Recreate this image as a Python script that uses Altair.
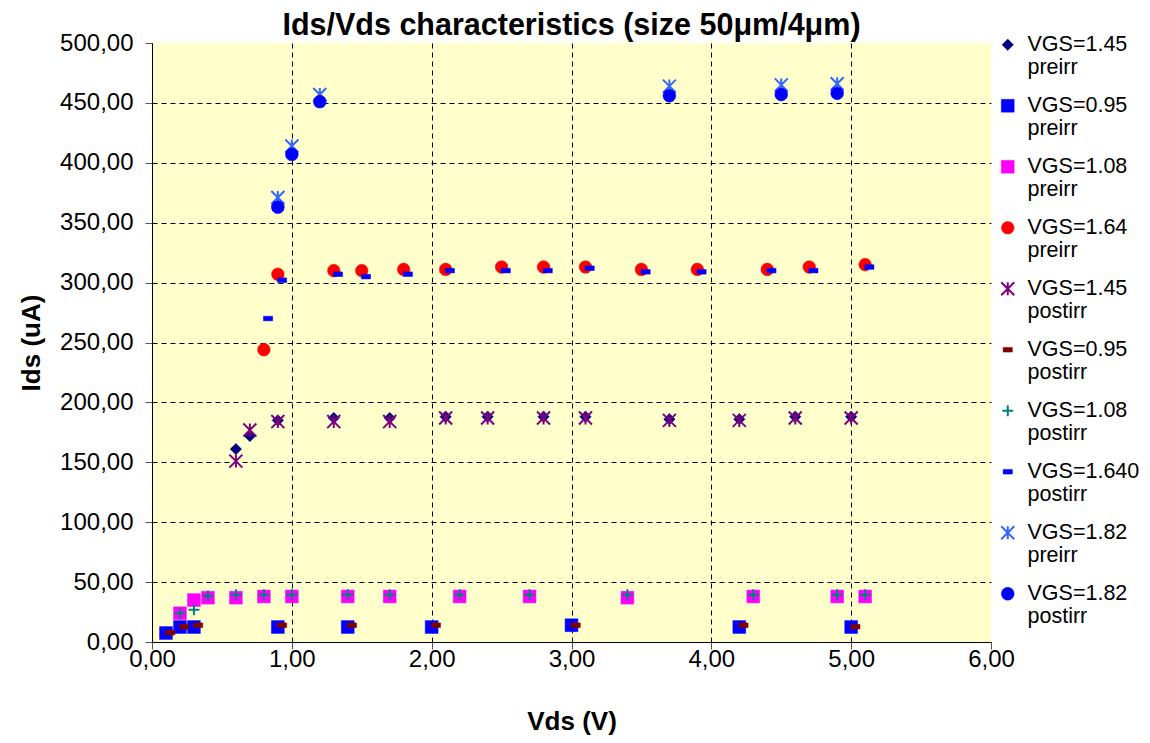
import altair as alt
import pandas as pd

FONT = "Liberation Sans, Arial, sans-serif"

# ---- data ----
series = [
    "VGS=1.45|preirr", "VGS=0.95|preirr", "VGS=1.08|preirr", "VGS=1.64|preirr",
    "VGS=1.45|postirr", "VGS=0.95|postirr", "VGS=1.08|postirr", "VGS=1.640|postirr",
    "VGS=1.82|preirr", "VGS=1.82|postirr",
]

s1_x = [0.6, 0.7, 0.9, 1.3, 1.7, 2.1, 2.4, 2.8, 3.1, 3.7, 4.2, 4.6, 5.0]
s1_y = [161, 172, 185, 187, 187, 188, 188, 188, 188, 186, 186, 188, 188]

s2_x = [0.1, 0.2, 0.3, 0.9, 1.4, 2.0, 3.0, 4.2, 5.0]
s2_y = [7.5, 12.5, 12.5, 12.5, 12.5, 12.5, 14, 12.5, 12.5]

s3_x = [0.2, 0.3, 0.4, 0.6, 0.8, 1.0, 1.4, 1.7, 2.2, 2.7, 3.4, 4.3, 4.9, 5.1]
s3_y = [24, 35, 37, 37, 38, 38, 38, 38, 38, 38, 37, 38, 38, 38]

s4_x = [0.8, 0.9, 1.3, 1.5, 1.8, 2.1, 2.5, 2.8, 3.1, 3.5, 3.9, 4.4, 4.7, 5.1]
s4_y = [244, 307, 310, 310, 311, 311, 313, 313, 313, 311, 311, 311, 313, 315]

s5_x = [0.6, 0.7, 0.9, 1.3, 1.7, 2.1, 2.4, 2.8, 3.1, 3.7, 4.2, 4.6, 5.0]
s5_y = [151, 177, 184, 184, 184, 187, 187, 187, 187, 185, 185, 187, 187]

s6_x = [0.13, 0.23, 0.33, 0.93, 1.43, 2.03, 3.03, 4.23, 5.03]
s6_y = [7.8, 12.8, 14, 14, 14, 14, 14, 14, 12.8]

s7_x = [0.2, 0.3, 0.4, 0.6, 0.8, 1.0, 1.4, 1.7, 2.2, 2.7, 3.4, 4.3, 4.9, 5.1]
s7_y = [24, 27, 38.5, 39.5, 39.5, 39.5, 39.5, 39.5, 39.5, 39.5, 39.5, 39.5, 39.5, 39.5]

s8_x = [0.83, 0.93, 1.33, 1.53, 1.83, 2.13, 2.53, 2.83, 3.13, 3.53, 3.93, 4.43, 4.73, 5.13]
s8_y = [270, 302, 307, 305, 307, 310, 310, 310, 312, 309, 309, 310, 310, 313]

s9_x = [0.9, 1.0, 1.2, 3.7, 4.5, 4.9]
s9_y = [371, 414, 457, 464, 465, 466]

s10_x = [0.9, 1.0, 1.2, 3.7, 4.5, 4.9]
s10_y = [363, 407, 451, 456, 457, 458]

x_ticks = [0, 1, 2, 3, 4, 5, 6]
y_ticks = [0, 50, 100, 150, 200, 250, 300, 350, 400, 450, 500]

xs = [s1_x, s2_x, s3_x, s4_x, s5_x, s6_x, s7_x, s8_x, s9_x, s10_x]
ys = [s1_y, s2_y, s3_y, s4_y, s5_y, s6_y, s7_y, s8_y, s9_y, s10_y]

rows = []
for i, (name, sx, sy) in enumerate(zip(series, xs, ys)):
    for a, b in zip(sx, sy):
        rows.append({"series": name, "ord": i, "Vds": a, "Ids": b})
df = pd.DataFrame(rows)

# ---- marker styling ----
AST = "M-1,-1L1,1M-1,1L1,-1M0,-1L0,1"
DASH = "M-1,-0.5L1,-0.5L1,0.5L-1,0.5Z"
PLUS = "M-1,0L1,0M0,-1L0,1"
shapes = ["diamond", "square", "square", "circle", AST, DASH, PLUS, DASH, AST, "circle"]
colors = ["#000080", "#0000FF", "#FF00FF", "#FF0000", "#800080",
          "#800000", "#008080", "#0000FF", "#3366FF", "#0000FF"]
sizes = [130, 165, 165, 160, 170, 85, 120, 85, 170, 165]
widths = [0.5, 0.5, 0.5, 0.5, 2, 0.5, 2, 0.5, 2, 0.5]

fmt = "replace(format(datum.value, '.2f'), '.', ',')"

leg = alt.Legend(
    title=None,
    labelExpr="split(datum.label, '|')",
    labelFont=FONT, labelFontSize=21.5, labelColor="black",
    orient="none", legendX=845, legendY=-9, padding=0,
    rowPadding=15, labelOffset=9, labelLimit=300,
)

chart = alt.Chart(df).mark_point(filled=True, opacity=1, fillOpacity=1, strokeOpacity=1).encode(
    x=alt.X("Vds:Q", scale=alt.Scale(domain=[0, 6], nice=False),
            axis=alt.Axis(values=x_ticks, labelExpr=fmt, title="Vds (V)", labelFlush=False,
                          gridOpacity={"condition": {"test": "datum.value >= 6", "value": 0}, "value": 1})),
    y=alt.Y("Ids:Q", scale=alt.Scale(domain=[0, 500], nice=False),
            axis=alt.Axis(values=y_ticks, labelExpr=fmt, title="Ids (uA)", labelFlush=False,
                          gridOpacity={"condition": {"test": "datum.value >= 500", "value": 0}, "value": 1})),
    shape=alt.Shape("series:N", scale=alt.Scale(domain=series, range=shapes), legend=leg),
    fill=alt.Fill("series:N", scale=alt.Scale(domain=series, range=colors), legend=leg),
    stroke=alt.Stroke("series:N", scale=alt.Scale(domain=series, range=colors), legend=leg),
    size=alt.Size("series:N", scale=alt.Scale(type="ordinal", domain=series, range=sizes), legend=leg),
    strokeWidth=alt.StrokeWidth("series:N", scale=alt.Scale(type="ordinal", domain=series, range=widths), legend=leg),
    order=alt.Order("ord:Q"),
).properties(
    width=839, height=599,
    title=alt.TitleParams(text="Ids/Vds characteristics (size 50μm/4μm)",
                          font=FONT, fontSize=30.5, fontWeight="bold", color="black",
                          anchor="middle", offset=-10),
    autosize=alt.AutoSizeParams(type="none"),
    padding={"left": 144, "top": 35, "right": 151, "bottom": 93},
).configure_view(
    fill="#FFFFCC", stroke=None,
).configure_axis(
    labelFont=FONT, labelFontSize=24, labelColor="black",
    titleFont=FONT, titleFontSize=26, titleFontWeight="bold", titleColor="black",
    domainColor="black", domainWidth=1,
    tickColor="#555555", tickSize=7, tickWidth=1,
    gridColor="black", gridDash=[5, 4], gridWidth=1,
).configure_axisY(
    labelPadding=12, titlePadding=15,
).configure_axisX(
    labelPadding=-2, titlePadding=37,
)

chart.save("out.html", embed_options={"renderer": "svg", "actions": False})
